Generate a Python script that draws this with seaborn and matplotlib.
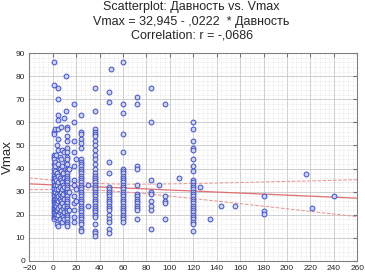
import numpy as np
import pandas as pd
import seaborn as sns
import matplotlib.pyplot as plt

# column positions (Давность) and the Vmax values
cols = [1, 2, 3, 4, 5, 6, 7, 8, 9, 10, 11, 12, 14, 18, 20, 24, 30, 36, 48, 50,
        60, 72, 84, 91, 96, 108, 120, 126, 134, 144, 156, 180, 216, 221, 240]
col_vmax = [
    [86, 76, 56, 55, 46, 45, 44, 42, 40, 38, 37, 36, 35, 34, 33, 32, 31, 30, 29, 28, 27, 26, 25, 24, 23, 22, 21, 20, 19, 18],
    [57, 43, 41, 39, 36, 33, 30, 27, 25, 23, 21, 19],
    [46, 35, 31, 28, 26, 24, 22, 20],
    [50, 38, 33, 29, 27, 25, 22, 19, 16],
    [75, 70, 63, 61, 57, 53, 48, 42, 37, 34, 31, 28, 26, 23, 20, 15],
    [45, 40, 36, 32, 29, 27, 24, 21, 18],
    [58, 44, 39, 35, 30, 26, 22],
    [48, 41, 34, 31, 28, 25, 20, 17],
    [38, 33, 29, 23, 19],
    [62, 47, 36, 32, 27, 24, 21, 18],
    [80, 65, 43, 35, 30],
    [58, 57, 54, 52, 49, 47, 45, 44, 42, 40, 39, 38, 37, 36, 35, 34, 33, 32, 31, 30, 29, 28, 27, 26, 25, 24, 23, 22, 21, 20, 19, 18, 17, 16, 15],
    [40, 30, 22],
    [68, 60, 52, 47, 41, 35, 33, 28, 25, 22, 19, 17],
    [44, 31, 26],
    [63, 56, 55, 53, 51, 49, 44, 43, 42, 41, 40, 39, 38, 37, 36, 35, 34, 33, 32, 31, 30, 29, 28, 27, 26, 25, 24, 23, 22, 21, 20, 19, 18, 17, 16, 14, 13],
    [33, 24],
    [75, 65, 57, 56, 55, 54, 52, 50, 48, 46, 44, 42, 40, 38, 37, 36, 35, 34, 33, 32, 31, 30, 29, 28, 27, 26, 25, 24, 23, 22, 21, 20, 19, 16, 13, 12, 11],
    [73, 69, 43, 38, 32, 31, 30, 29, 28, 27, 26, 25, 24, 23, 22, 20, 18, 17, 14, 12],
    [83],
    [86, 68, 64, 55, 47, 40, 39, 38, 37, 36, 35, 34, 33, 32, 31, 30, 29, 28, 27, 26, 25, 24, 23, 22, 21, 20, 19, 18, 17],
    [71, 68, 41, 40, 33, 29, 28, 27, 26, 25, 24, 23, 22, 18],
    [75, 60, 35, 30, 29, 26, 24, 22, 14],
    [33],
    [68, 28, 26, 25, 18],
    [36],
    [60, 57, 52, 49, 48, 44, 41, 39, 35, 34, 33, 32, 31, 30, 29, 28, 27, 26, 25, 24, 23, 22, 21, 20, 19, 18, 17, 16, 13],
    [32],
    [18],
    [24],
    [24],
    [28, 21.5, 20.5],
    [37.7],
    [23],
    [28],
]

intercept = 32.945
slope = -0.0222

title = "Scatterplot: Давность vs. Vmax\nVmax = 32,945 - ,0222  * Давность\nCorrelation: r = -,0686"

davnost = [c for c, ys in zip(cols, col_vmax) for _ in ys]
vmax = [v for ys in col_vmax for v in ys]
df = pd.DataFrame({'Давность': davnost, 'Vmax': vmax})

sns.set_style('white')
plt.rcParams['font.family'] = ['Liberation Sans', 'DejaVu Sans']

fig = plt.figure(figsize=(3.65, 2.75), dpi=100)
ax = fig.add_axes([0.08, 0.051, 0.899, 0.756])

# background grid, Statistica style
ax.set_xticks(np.arange(-20, 261, 20))
ax.set_yticks(np.arange(0, 91, 10))
ax.set_xticks(np.arange(-20, 261, 4), minor=True)
ax.set_yticks(np.arange(0, 91, 2), minor=True)
ax.grid(True, which='major', color='#c8c8c8', linewidth=0.6)
ax.grid(True, which='minor', color='#dcdcdc', linewidth=0.5, linestyle=':')
ax.set_axisbelow(True)

# regression line and 95% confidence band
x = df['Давность'].to_numpy(float)
y = df['Vmax'].to_numpy(float)
n = len(x)
resid = y - (intercept + slope * x)
s = np.sqrt((resid ** 2).sum() / (n - 2))
sxx = ((x - x.mean()) ** 2).sum()
xs = np.linspace(-20, 260, 100)
fit = intercept + slope * xs
half = 1.96 * s * np.sqrt(1 / n + (xs - x.mean()) ** 2 / sxx)
line_df = pd.DataFrame({'x': xs, 'fit': fit, 'lo': fit - half, 'hi': fit + half})

sns.lineplot(data=line_df, x='x', y='fit', ax=ax, color='#e07070', linewidth=0.9)
sns.lineplot(data=line_df, x='x', y='lo', ax=ax, color='#e89090', linewidth=0.7, linestyle='--')
sns.lineplot(data=line_df, x='x', y='hi', ax=ax, color='#e89090', linewidth=0.7, linestyle='--')

sns.scatterplot(data=df, x='Давность', y='Vmax', ax=ax, marker='o', s=12,
                facecolor='#ccd3f2', edgecolor='#4050c4', linewidth=0.7, zorder=3)

ax.set_xlim(-20, 260)
ax.set_ylim(0, 90)
ax.set_xlabel('')
ax.set_ylabel('Vmax', fontsize=9.5)
ax.yaxis.set_label_coords(-0.046, 0.5)
ax.tick_params(axis='x', which='major', pad=3)
ax.tick_params(axis='y', which='major', pad=3)
ax.tick_params(which='major', labelsize=6, direction='in', length=3,
               top=True, right=True, color='#707070')
ax.tick_params(which='minor', length=0)
for sp in ax.spines.values():
    sp.set_color('#808080')
    sp.set_linewidth(0.8)

fig.text(0.525, 0.995, title, ha='center', va='top', fontsize=9, linespacing=1.25)

fig.savefig('out.png', dpi=100)
